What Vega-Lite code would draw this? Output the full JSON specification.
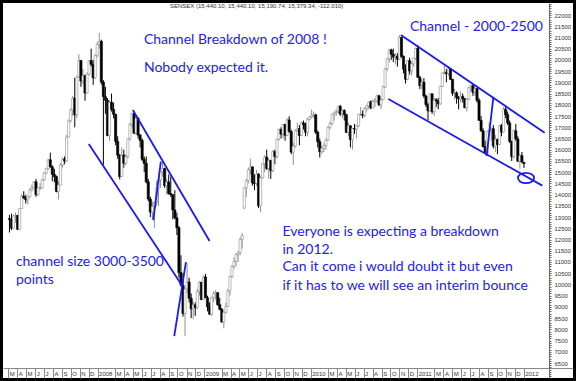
{
"$schema": "https://vega.github.io/schema/vega-lite/v6.json",
"width": 570, "height": 375, "padding": 3, "autosize": {"type": "none"},
"background": "black",
"config": {"view": {"fill": "white", "stroke": null}, "axis": {"labelOverlap": false, "labelFlush": false, "labelBound": false, "labelSeparation": 0}},
"title": {"text": "SENSEX (15,440.10, 15,440.10, 15,190.74, 15,379.34, -112.010)", "anchor": "start", "dx": 167, "offset": -8, "fontSize": 6, "fontWeight": "normal", "font": "Liberation Sans", "color": "#333333"},
"datasets": {
"ohlc": [
{"d":"2007-03-05","o":12938,"h":13100,"l":12316,"c":12886},
{"d":"2007-03-12","o":12886,"h":13150,"l":12420,"c":12500},
{"d":"2007-03-19","o":12500,"h":13100,"l":12480,"c":13050},
{"d":"2007-03-26","o":13050,"h":13200,"l":12750,"c":13072},
{"d":"2007-04-02","o":13072,"h":13100,"l":12420,"c":12455},
{"d":"2007-04-09","o":12455,"h":13400,"l":12450,"c":13384},
{"d":"2007-04-16","o":13384,"h":14020,"l":13380,"c":13930},
{"d":"2007-04-23","o":13930,"h":14150,"l":13800,"c":13862},
{"d":"2007-04-30","o":13862,"h":14000,"l":13600,"c":13766},
{"d":"2007-05-07","o":13766,"h":13950,"l":13550,"c":13900},
{"d":"2007-05-14","o":13900,"h":14300,"l":13850,"c":14200},
{"d":"2007-05-21","o":14200,"h":14450,"l":14150,"c":14300},
{"d":"2007-05-28","o":14300,"h":14600,"l":14280,"c":14570},
{"d":"2007-06-04","o":14570,"h":14700,"l":13900,"c":14000},
{"d":"2007-06-11","o":14000,"h":14320,"l":13950,"c":14300},
{"d":"2007-06-18","o":14300,"h":14500,"l":14200,"c":14300},
{"d":"2007-06-25","o":14300,"h":14700,"l":14250,"c":14650},
{"d":"2007-07-02","o":14650,"h":15000,"l":14600,"c":14964},
{"d":"2007-07-09","o":14964,"h":15200,"l":14900,"c":15150},
{"d":"2007-07-16","o":15150,"h":15600,"l":15100,"c":15550},
{"d":"2007-07-23","o":15550,"h":15870,"l":15200,"c":15235},
{"d":"2007-07-30","o":15235,"h":15300,"l":14600,"c":14900},
{"d":"2007-08-06","o":14900,"h":15150,"l":14550,"c":14800},
{"d":"2007-08-13","o":14800,"h":14850,"l":14100,"c":14141},
{"d":"2007-08-20","o":14141,"h":14600,"l":13780,"c":14424},
{"d":"2007-08-27","o":14424,"h":15400,"l":14400,"c":15318},
{"d":"2007-09-03","o":15318,"h":15650,"l":15200,"c":15590},
{"d":"2007-09-10","o":15590,"h":15700,"l":15350,"c":15500},
{"d":"2007-09-17","o":15500,"h":16650,"l":15450,"c":16564},
{"d":"2007-09-24","o":16564,"h":17350,"l":16550,"c":17291},
{"d":"2007-10-01","o":17291,"h":17850,"l":17200,"c":17773},
{"d":"2007-10-08","o":17773,"h":18400,"l":17500,"c":18300},
{"d":"2007-10-15","o":18300,"h":19200,"l":17000,"c":17560},
{"d":"2007-10-22","o":17560,"h":19300,"l":17400,"c":19243},
{"d":"2007-10-29","o":19243,"h":20250,"l":19200,"c":19977},
{"d":"2007-11-05","o":19977,"h":20000,"l":18800,"c":19058},
{"d":"2007-11-12","o":19058,"h":19600,"l":18900,"c":19298},
{"d":"2007-11-19","o":19298,"h":19350,"l":18182,"c":18526},
{"d":"2007-11-26","o":18526,"h":19450,"l":18500,"c":19363},
{"d":"2007-12-03","o":19363,"h":20000,"l":19300,"c":19966},
{"d":"2007-12-10","o":19966,"h":20500,"l":19700,"c":19800},
{"d":"2007-12-17","o":19800,"h":20000,"l":18890,"c":19200},
{"d":"2007-12-24","o":19200,"h":20250,"l":19150,"c":20206},
{"d":"2007-12-31","o":20206,"h":20800,"l":20100,"c":20686},
{"d":"2008-01-07","o":20686,"h":21206,"l":20500,"c":20827},
{"d":"2008-01-14","o":20827,"h":20900,"l":18900,"c":19013},
{"d":"2008-01-21","o":19013,"h":19100,"l":15332,"c":18361},
{"d":"2008-01-28","o":18361,"h":18800,"l":17600,"c":18200},
{"d":"2008-02-04","o":18200,"h":18300,"l":16600,"c":16630},
{"d":"2008-02-11","o":16630,"h":18200,"l":16400,"c":18115},
{"d":"2008-02-18","o":18115,"h":18500,"l":17700,"c":17800},
{"d":"2008-02-25","o":17800,"h":18100,"l":17400,"c":17578},
{"d":"2008-03-03","o":17578,"h":17600,"l":16200,"c":16371},
{"d":"2008-03-10","o":16371,"h":16600,"l":15600,"c":15760},
{"d":"2008-03-17","o":15760,"h":15800,"l":14677,"c":14809},
{"d":"2008-03-24","o":14809,"h":16100,"l":14800,"c":15760},
{"d":"2008-03-31","o":15760,"h":16000,"l":15200,"c":15400},
{"d":"2008-04-07","o":15400,"h":15800,"l":15300,"c":15700},
{"d":"2008-04-14","o":15700,"h":16500,"l":15600,"c":16480},
{"d":"2008-04-21","o":16480,"h":17200,"l":16400,"c":17126},
{"d":"2008-04-28","o":17126,"h":17650,"l":17000,"c":17600},
{"d":"2008-05-05","o":17600,"h":17700,"l":16700,"c":16737},
{"d":"2008-05-12","o":16737,"h":17500,"l":16650,"c":17400},
{"d":"2008-05-19","o":17400,"h":17450,"l":16500,"c":16650},
{"d":"2008-05-26","o":16650,"h":16700,"l":16100,"c":16415},
{"d":"2008-06-02","o":16415,"h":16500,"l":15500,"c":15572},
{"d":"2008-06-09","o":15572,"h":15700,"l":15000,"c":15395},
{"d":"2008-06-16","o":15395,"h":15700,"l":14500,"c":14571},
{"d":"2008-06-23","o":14571,"h":14700,"l":13700,"c":13802},
{"d":"2008-06-30","o":13802,"h":13900,"l":13000,"c":13220},
{"d":"2008-07-07","o":13220,"h":13700,"l":12900,"c":13469},
{"d":"2008-07-14","o":13469,"h":13700,"l":12514,"c":13635},
{"d":"2008-07-21","o":13635,"h":14600,"l":13500,"c":14274},
{"d":"2008-07-28","o":14274,"h":14700,"l":13500,"c":14656},
{"d":"2008-08-04","o":14656,"h":15000,"l":14300,"c":15023},
{"d":"2008-08-11","o":15023,"h":15580,"l":14800,"c":15160},
{"d":"2008-08-18","o":15160,"h":15200,"l":14300,"c":14400},
{"d":"2008-08-25","o":14400,"h":14700,"l":14000,"c":14564},
{"d":"2008-09-01","o":14564,"h":14900,"l":14000,"c":14048},
{"d":"2008-09-08","o":14048,"h":14800,"l":13900,"c":14000},
{"d":"2008-09-15","o":14000,"h":14000,"l":12900,"c":13315},
{"d":"2008-09-22","o":13315,"h":14200,"l":12900,"c":12966},
{"d":"2008-09-29","o":12966,"h":13200,"l":12200,"c":12527},
{"d":"2008-10-06","o":12527,"h":12600,"l":10300,"c":10527},
{"d":"2008-10-13","o":10527,"h":11300,"l":9900,"c":9975},
{"d":"2008-10-20","o":9975,"h":10500,"l":8566,"c":8701},
{"d":"2008-10-27","o":8701,"h":9900,"l":7697,"c":9788},
{"d":"2008-11-03","o":9788,"h":10950,"l":9600,"c":10110},
{"d":"2008-11-10","o":10110,"h":10300,"l":9200,"c":9385},
{"d":"2008-11-17","o":9385,"h":9600,"l":8500,"c":8915},
{"d":"2008-11-24","o":8915,"h":9250,"l":8450,"c":9093},
{"d":"2008-12-01","o":9093,"h":9200,"l":8600,"c":8965},
{"d":"2008-12-08","o":8965,"h":9800,"l":8900,"c":9690},
{"d":"2008-12-15","o":9690,"h":10150,"l":9500,"c":10099},
{"d":"2008-12-22","o":10099,"h":10100,"l":9300,"c":9328},
{"d":"2008-12-29","o":9328,"h":10400,"l":9300,"c":10335},
{"d":"2009-01-05","o":10335,"h":10470,"l":9400,"c":9406},
{"d":"2009-01-12","o":9406,"h":9500,"l":8800,"c":9000},
{"d":"2009-01-19","o":9000,"h":9200,"l":8650,"c":8674},
{"d":"2009-01-26","o":8674,"h":9450,"l":8600,"c":9424},
{"d":"2009-02-02","o":9424,"h":9700,"l":9200,"c":9600},
{"d":"2009-02-09","o":9600,"h":9750,"l":9300,"c":9634},
{"d":"2009-02-16","o":9634,"h":9650,"l":9050,"c":9100},
{"d":"2009-02-23","o":9100,"h":9400,"l":8850,"c":8891},
{"d":"2009-03-02","o":8891,"h":8950,"l":8300,"c":8325},
{"d":"2009-03-09","o":8325,"h":8800,"l":8047,"c":8756},
{"d":"2009-03-16","o":8756,"h":9200,"l":8700,"c":9024},
{"d":"2009-03-23","o":9024,"h":9800,"l":9000,"c":9708},
{"d":"2009-03-30","o":9708,"h":10400,"l":9500,"c":10348},
{"d":"2009-04-06","o":10348,"h":10850,"l":10300,"c":10800},
{"d":"2009-04-13","o":10800,"h":11200,"l":10700,"c":11023},
{"d":"2009-04-20","o":11023,"h":11400,"l":10800,"c":11329},
{"d":"2009-04-27","o":11329,"h":11500,"l":11000,"c":11403},
{"d":"2009-05-04","o":11403,"h":12100,"l":11300,"c":12000},
{"d":"2009-05-11","o":12000,"h":12300,"l":11600,"c":12173},
{"d":"2009-05-18","o":13400,"h":14300,"l":13350,"c":14302},
{"d":"2009-05-25","o":14302,"h":14700,"l":13900,"c":14625},
{"d":"2009-06-01","o":14625,"h":15200,"l":14500,"c":15104},
{"d":"2009-06-08","o":15104,"h":15600,"l":14900,"c":15237},
{"d":"2009-06-15","o":15237,"h":15250,"l":14400,"c":14522},
{"d":"2009-06-22","o":14522,"h":14900,"l":14200,"c":14493},
{"d":"2009-06-29","o":14493,"h":15100,"l":14400,"c":14915},
{"d":"2009-07-06","o":14915,"h":14950,"l":13400,"c":13504},
{"d":"2009-07-13","o":13504,"h":14800,"l":13219,"c":14744},
{"d":"2009-07-20","o":14744,"h":15400,"l":14700,"c":15378},
{"d":"2009-07-27","o":15378,"h":15750,"l":15000,"c":15670},
{"d":"2009-08-03","o":15670,"h":16000,"l":15100,"c":15160},
{"d":"2009-08-10","o":15160,"h":15600,"l":14700,"c":15518},
{"d":"2009-08-17","o":15518,"h":15550,"l":14700,"c":15066},
{"d":"2009-08-24","o":15066,"h":16000,"l":15000,"c":15922},
{"d":"2009-08-31","o":15922,"h":16000,"l":15350,"c":15695},
{"d":"2009-09-07","o":15695,"h":16500,"l":15600,"c":16469},
{"d":"2009-09-14","o":16469,"h":16950,"l":16400,"c":16900},
{"d":"2009-09-21","o":16900,"h":17000,"l":16500,"c":16693},
{"d":"2009-09-28","o":16693,"h":17150,"l":16500,"c":17126},
{"d":"2009-10-05","o":17126,"h":17150,"l":16400,"c":16643},
{"d":"2009-10-12","o":16643,"h":17400,"l":16600,"c":17326},
{"d":"2009-10-19","o":17326,"h":17490,"l":16750,"c":16810},
{"d":"2009-10-26","o":16810,"h":16900,"l":15800,"c":15896},
{"d":"2009-11-02","o":15896,"h":16300,"l":15330,"c":16158},
{"d":"2009-11-09","o":16158,"h":16900,"l":16100,"c":16848},
{"d":"2009-11-16","o":16848,"h":17200,"l":16800,"c":16940},
{"d":"2009-11-23","o":16940,"h":17100,"l":16200,"c":16632},
{"d":"2009-11-30","o":16632,"h":17250,"l":16600,"c":17200},
{"d":"2009-12-07","o":17200,"h":17300,"l":16900,"c":17120},
{"d":"2009-12-14","o":17120,"h":17200,"l":16600,"c":16780},
{"d":"2009-12-21","o":16780,"h":17400,"l":16600,"c":17360},
{"d":"2009-12-28","o":17360,"h":17500,"l":17300,"c":17465},
{"d":"2010-01-04","o":17465,"h":17790,"l":17400,"c":17540},
{"d":"2010-01-11","o":17540,"h":17700,"l":17400,"c":17552},
{"d":"2010-01-18","o":17552,"h":17600,"l":16700,"c":16780},
{"d":"2010-01-25","o":16780,"h":16850,"l":16100,"c":16357},
{"d":"2010-02-01","o":16357,"h":16500,"l":15651,"c":15916},
{"d":"2010-02-08","o":15916,"h":16150,"l":15800,"c":16067},
{"d":"2010-02-15","o":16067,"h":16300,"l":15900,"c":16190},
{"d":"2010-02-22","o":16190,"h":16500,"l":16000,"c":16429},
{"d":"2010-03-01","o":16429,"h":17050,"l":16400,"c":16994},
{"d":"2010-03-08","o":16994,"h":17250,"l":16900,"c":17164},
{"d":"2010-03-15","o":17164,"h":17600,"l":17100,"c":17578},
{"d":"2010-03-22","o":17578,"h":17700,"l":17300,"c":17644},
{"d":"2010-03-29","o":17644,"h":17800,"l":17500,"c":17692},
{"d":"2010-04-05","o":17692,"h":17900,"l":17600,"c":17933},
{"d":"2010-04-12","o":17933,"h":18000,"l":17500,"c":17594},
{"d":"2010-04-19","o":17594,"h":17800,"l":17400,"c":17745},
{"d":"2010-04-26","o":17745,"h":17800,"l":17300,"c":17558},
{"d":"2010-05-03","o":17558,"h":17600,"l":16750,"c":16770},
{"d":"2010-05-10","o":16770,"h":17200,"l":16600,"c":17062},
{"d":"2010-05-17","o":17062,"h":17100,"l":16100,"c":16445},
{"d":"2010-05-24","o":16445,"h":16950,"l":16000,"c":16945},
{"d":"2010-05-31","o":16945,"h":17150,"l":16700,"c":16922},
{"d":"2010-06-07","o":16922,"h":17100,"l":16500,"c":17065},
{"d":"2010-06-14","o":17065,"h":17600,"l":17000,"c":17570},
{"d":"2010-06-21","o":17570,"h":17900,"l":17500,"c":17574},
{"d":"2010-06-28","o":17574,"h":17750,"l":17400,"c":17535},
{"d":"2010-07-05","o":17535,"h":17900,"l":17450,"c":17833},
{"d":"2010-07-12","o":17833,"h":18000,"l":17700,"c":17955},
{"d":"2010-07-19","o":17955,"h":18150,"l":17800,"c":18130},
{"d":"2010-07-26","o":18130,"h":18200,"l":17800,"c":17868},
{"d":"2010-08-02","o":17868,"h":18250,"l":17850,"c":18144},
{"d":"2010-08-09","o":18144,"h":18300,"l":17900,"c":18167},
{"d":"2010-08-16","o":18167,"h":18450,"l":18100,"c":18401},
{"d":"2010-08-23","o":18401,"h":18450,"l":17950,"c":17998},
{"d":"2010-08-30","o":17998,"h":18300,"l":17800,"c":18221},
{"d":"2010-09-06","o":18221,"h":18850,"l":18200,"c":18799},
{"d":"2010-09-13","o":18799,"h":19650,"l":18750,"c":19595},
{"d":"2010-09-20","o":19595,"h":20100,"l":19500,"c":20045},
{"d":"2010-09-27","o":20045,"h":20500,"l":19900,"c":20445},
{"d":"2010-10-04","o":20445,"h":20500,"l":20000,"c":20250},
{"d":"2010-10-11","o":20250,"h":20500,"l":19900,"c":20125},
{"d":"2010-10-18","o":20125,"h":20300,"l":19800,"c":20165},
{"d":"2010-10-25","o":20165,"h":20300,"l":19700,"c":20032},
{"d":"2010-11-01","o":20032,"h":21108,"l":20000,"c":21004},
{"d":"2010-11-08","o":21004,"h":21000,"l":20100,"c":20156},
{"d":"2010-11-15","o":20156,"h":20200,"l":19400,"c":19585},
{"d":"2010-11-22","o":19585,"h":19800,"l":18950,"c":19137},
{"d":"2010-11-29","o":19137,"h":20000,"l":19100,"c":19966},
{"d":"2010-12-06","o":19966,"h":20100,"l":19350,"c":19509},
{"d":"2010-12-13","o":19509,"h":19900,"l":19300,"c":19827},
{"d":"2010-12-20","o":19827,"h":20100,"l":19700,"c":20074},
{"d":"2010-12-27","o":20074,"h":20550,"l":20000,"c":20509},
{"d":"2011-01-03","o":20509,"h":20660,"l":19200,"c":19224},
{"d":"2011-01-10","o":19224,"h":19300,"l":18700,"c":18860},
{"d":"2011-01-17","o":18860,"h":19150,"l":18700,"c":19008},
{"d":"2011-01-24","o":19008,"h":19200,"l":18300,"c":18396},
{"d":"2011-01-31","o":18396,"h":18450,"l":17900,"c":18008},
{"d":"2011-02-07","o":18008,"h":18100,"l":17296,"c":17729},
{"d":"2011-02-14","o":17729,"h":18500,"l":17700,"c":18491},
{"d":"2011-02-21","o":18491,"h":18500,"l":17600,"c":17700},
{"d":"2011-02-28","o":17700,"h":18300,"l":17500,"c":18219},
{"d":"2011-03-07","o":18219,"h":18300,"l":17900,"c":18174},
{"d":"2011-03-14","o":18174,"h":18300,"l":17800,"c":18044},
{"d":"2011-03-21","o":18044,"h":18850,"l":18000,"c":18816},
{"d":"2011-03-28","o":18816,"h":19450,"l":18800,"c":19420},
{"d":"2011-04-04","o":19420,"h":19800,"l":19350,"c":19451},
{"d":"2011-04-11","o":19451,"h":19600,"l":19000,"c":19386},
{"d":"2011-04-18","o":19386,"h":19700,"l":19300,"c":19602},
{"d":"2011-04-25","o":19602,"h":19650,"l":19100,"c":19136},
{"d":"2011-05-02","o":19136,"h":19150,"l":18400,"c":18518},
{"d":"2011-05-09","o":18518,"h":18700,"l":18250,"c":18531},
{"d":"2011-05-16","o":18531,"h":18600,"l":18050,"c":18326},
{"d":"2011-05-23","o":18326,"h":18400,"l":17800,"c":18266},
{"d":"2011-05-30","o":18266,"h":18600,"l":18100,"c":18377},
{"d":"2011-06-06","o":18377,"h":18500,"l":18100,"c":18269},
{"d":"2011-06-13","o":18269,"h":18300,"l":17850,"c":17870},
{"d":"2011-06-20","o":17870,"h":18300,"l":17700,"c":18240},
{"d":"2011-06-27","o":18240,"h":18800,"l":18200,"c":18763},
{"d":"2011-07-04","o":18763,"h":18900,"l":18600,"c":18858},
{"d":"2011-07-11","o":18858,"h":18900,"l":18400,"c":18561},
{"d":"2011-07-18","o":18561,"h":18800,"l":18400,"c":18722},
{"d":"2011-07-25","o":18722,"h":18750,"l":18100,"c":18197},
{"d":"2011-08-01","o":18197,"h":18300,"l":17300,"c":17305},
{"d":"2011-08-08","o":17305,"h":17500,"l":16800,"c":16840},
{"d":"2011-08-15","o":16840,"h":16950,"l":16100,"c":16141},
{"d":"2011-08-22","o":16141,"h":16400,"l":15800,"c":15848},
{"d":"2011-08-29","o":15848,"h":16850,"l":15800,"c":16821},
{"d":"2011-09-05","o":16821,"h":17200,"l":16700,"c":16867},
{"d":"2011-09-12","o":16867,"h":17000,"l":16400,"c":16933},
{"d":"2011-09-19","o":16933,"h":17100,"l":16050,"c":16162},
{"d":"2011-09-26","o":16162,"h":16650,"l":15900,"c":16454},
{"d":"2011-10-03","o":16454,"h":16500,"l":15800,"c":16232},
{"d":"2011-10-10","o":16232,"h":17100,"l":16200,"c":17082},
{"d":"2011-10-17","o":17082,"h":17150,"l":16600,"c":16785},
{"d":"2011-10-24","o":16785,"h":17900,"l":16750,"c":17804},
{"d":"2011-10-31","o":17804,"h":17900,"l":17400,"c":17562},
{"d":"2011-11-07","o":17562,"h":17700,"l":17100,"c":17193},
{"d":"2011-11-14","o":17193,"h":17300,"l":16300,"c":16372},
{"d":"2011-11-21","o":16372,"h":16400,"l":15500,"c":15695},
{"d":"2011-11-28","o":15695,"h":16900,"l":15600,"c":16847},
{"d":"2011-12-05","o":16847,"h":17150,"l":16400,"c":16483},
{"d":"2011-12-12","o":16483,"h":16600,"l":15450,"c":15491},
{"d":"2011-12-19","o":15491,"h":15800,"l":15150,"c":15739},
{"d":"2011-12-26","o":15739,"h":15900,"l":15400,"c":15455},
{"d":"2012-01-02","o":15440,"h":15440,"l":15190,"c":15379}
],
"lines": [
{"x1":"2007-12-02","y1":16254,"x2":"2008-10-20","y2":9885},
{"x1":"2008-05-01","y1":17769,"x2":"2009-01-19","y2":11934},
{"x1":"2008-07-10","y1":12869,"x2":"2008-08-05","y2":15466},
{"x1":"2008-09-20","y1":7702,"x2":"2008-10-30","y2":10998},
{"x1":"2010-11-06","y1":21109,"x2":"2012-03-13","y2":16757},
{"x1":"2010-09-24","y1":18259,"x2":"2012-03-05","y2":14400},
{"x1":"2011-08-27","y1":15720,"x2":"2011-09-19","y2":18334}
],
"notes": [
{"d":"2008-06-08","v":20909,"t":"Channel Breakdown of 2008 !"},
{"d":"2008-06-08","v":19626,"t":"Nobody expected it."},
{"d":"2010-12-07","v":21479,"t":"Channel - 2000-2500"},
{"d":"2009-09-26","v":12348,"t":"Everyone is expecting a breakdown"},
{"d":"2009-09-26","v":11532,"t":"in 2012."},
{"d":"2009-09-26","v":10762,"t":"Can it come i would doubt it but even"},
{"d":"2009-09-26","v":9929,"t":"if it has to we will see an interim bounce"},
{"d":"2007-03-27","v":10998,"t":"channel size 3000-3500"},
{"d":"2007-03-27","v":10196,"t":"points"}
],
"ell": [{"d":"2012-01-09","v":14740}]
},
"layer": [
{"data": {"name": "ohlc"},
 "mark": {"type": "rule", "strokeWidth": 1},
 "encoding": {
  "x": {"field": "d", "type": "temporal", "scale": {"type": "utc", "domain": ["2007-02-28", "2012-06-01"]},
        "axis": {"orient": "bottom", "offset": -10, "title": null, "grid": false,
                 "tickCount": {"interval": "month", "step": 1},
                 "labelExpr": "(datum.value > 1327000000000 || utcFormat(datum.value, '%m') == '02') ? '' : (utcFormat(datum.value, '%m') == '01' ? utcFormat(datum.value, '%Y') : slice(utcFormat(datum.value, '%b'), 0, 1))",
                 "tickOpacity": {"condition": {"test": "datum.value > 1327000000000 || utcFormat(datum.value, '%m') == '02'", "value": 0}, "value": 1},
                 "labelAlign": "left", "labelBaseline": "top", "labelOffset": 1, "labelPadding": -8,
                 "tickSize": 10, "tickColor": "#888888", "domainColor": "#888888",
                 "labelFont": "Liberation Sans", "labelFontSize": 6, "labelColor": "#333333",
                 "labelOverlap": false, "labelSeparation": 0, "labelFlush": false, "labelBound": false}},
  "y": {"field": "l", "type": "quantitative", "scale": {"domain": [5832, 22535], "nice": false, "zero": false},
        "axis": {"orient": "right", "offset": -24, "title": null, "grid": false, "tickCount": 170, "format": "d",
                 "labelExpr": "datum.value % 500 === 0 && datum.value >= 6500 && datum.value <= 22000 ? datum.label : ''",
                 "tickSize": 2, "tickColor": "#666666", "domainColor": "#666666",
                 "labelFont": "Liberation Sans", "labelFontSize": 6, "labelColor": "#333333", "labelPadding": 3,
                 "labelOverlap": false, "labelFlush": false, "labelBound": false}},
  "y2": {"field": "h"},
  "color": {"condition": {"test": "datum.c >= datum.o", "value": "#8f8f8f"}, "value": "black"}
 }},
{"data": {"name": "ohlc"},
 "mark": {"type": "bar", "width": 2.2, "strokeWidth": 0.6},
 "encoding": {
  "x": {"field": "d", "type": "temporal", "scale": {"type": "utc", "domain": ["2007-02-28", "2012-06-01"]}},
  "y": {"field": "o", "type": "quantitative", "scale": {"domain": [5832, 22535], "nice": false, "zero": false}},
  "y2": {"field": "c"},
  "fill": {"condition": {"test": "datum.c >= datum.o", "value": "white"}, "value": "black"},
  "stroke": {"condition": {"test": "datum.c >= datum.o", "value": "#8f8f8f"}, "value": "black"}
 }},
{"data": {"name": "lines"},
 "mark": {"type": "rule", "color": "#1a1aee", "strokeWidth": 1.8},
 "encoding": {
  "x": {"field": "x1", "type": "temporal", "scale": {"type": "utc", "domain": ["2007-02-28", "2012-06-01"]}},
  "x2": {"field": "x2"},
  "y": {"field": "y1", "type": "quantitative", "scale": {"domain": [5832, 22535], "nice": false, "zero": false}},
  "y2": {"field": "y2"}
 }},
{"data": {"name": "notes"},
 "mark": {"type": "text", "align": "left", "baseline": "middle", "font": "Lato", "fontSize": 14, "color": "#2222ee"},
 "encoding": {
  "x": {"field": "d", "type": "temporal", "scale": {"type": "utc", "domain": ["2007-02-28", "2012-06-01"]}},
  "y": {"field": "v", "type": "quantitative", "scale": {"domain": [5832, 22535], "nice": false, "zero": false}},
  "text": {"field": "t"}
 }},
{"data": {"name": "ell"},
 "mark": {"type": "point", "shape": "M-1,0A1,0.65 0 1,1 1,0A1,0.65 0 1,1 -1,0Z", "size": 256, "filled": false, "stroke": "#1a1aee", "strokeWidth": 1.8, "opacity": 1},
 "encoding": {
  "x": {"field": "d", "type": "temporal", "scale": {"type": "utc", "domain": ["2007-02-28", "2012-06-01"]}},
  "y": {"field": "v", "type": "quantitative", "scale": {"domain": [5832, 22535], "nice": false, "zero": false}}
 }}
]
}
